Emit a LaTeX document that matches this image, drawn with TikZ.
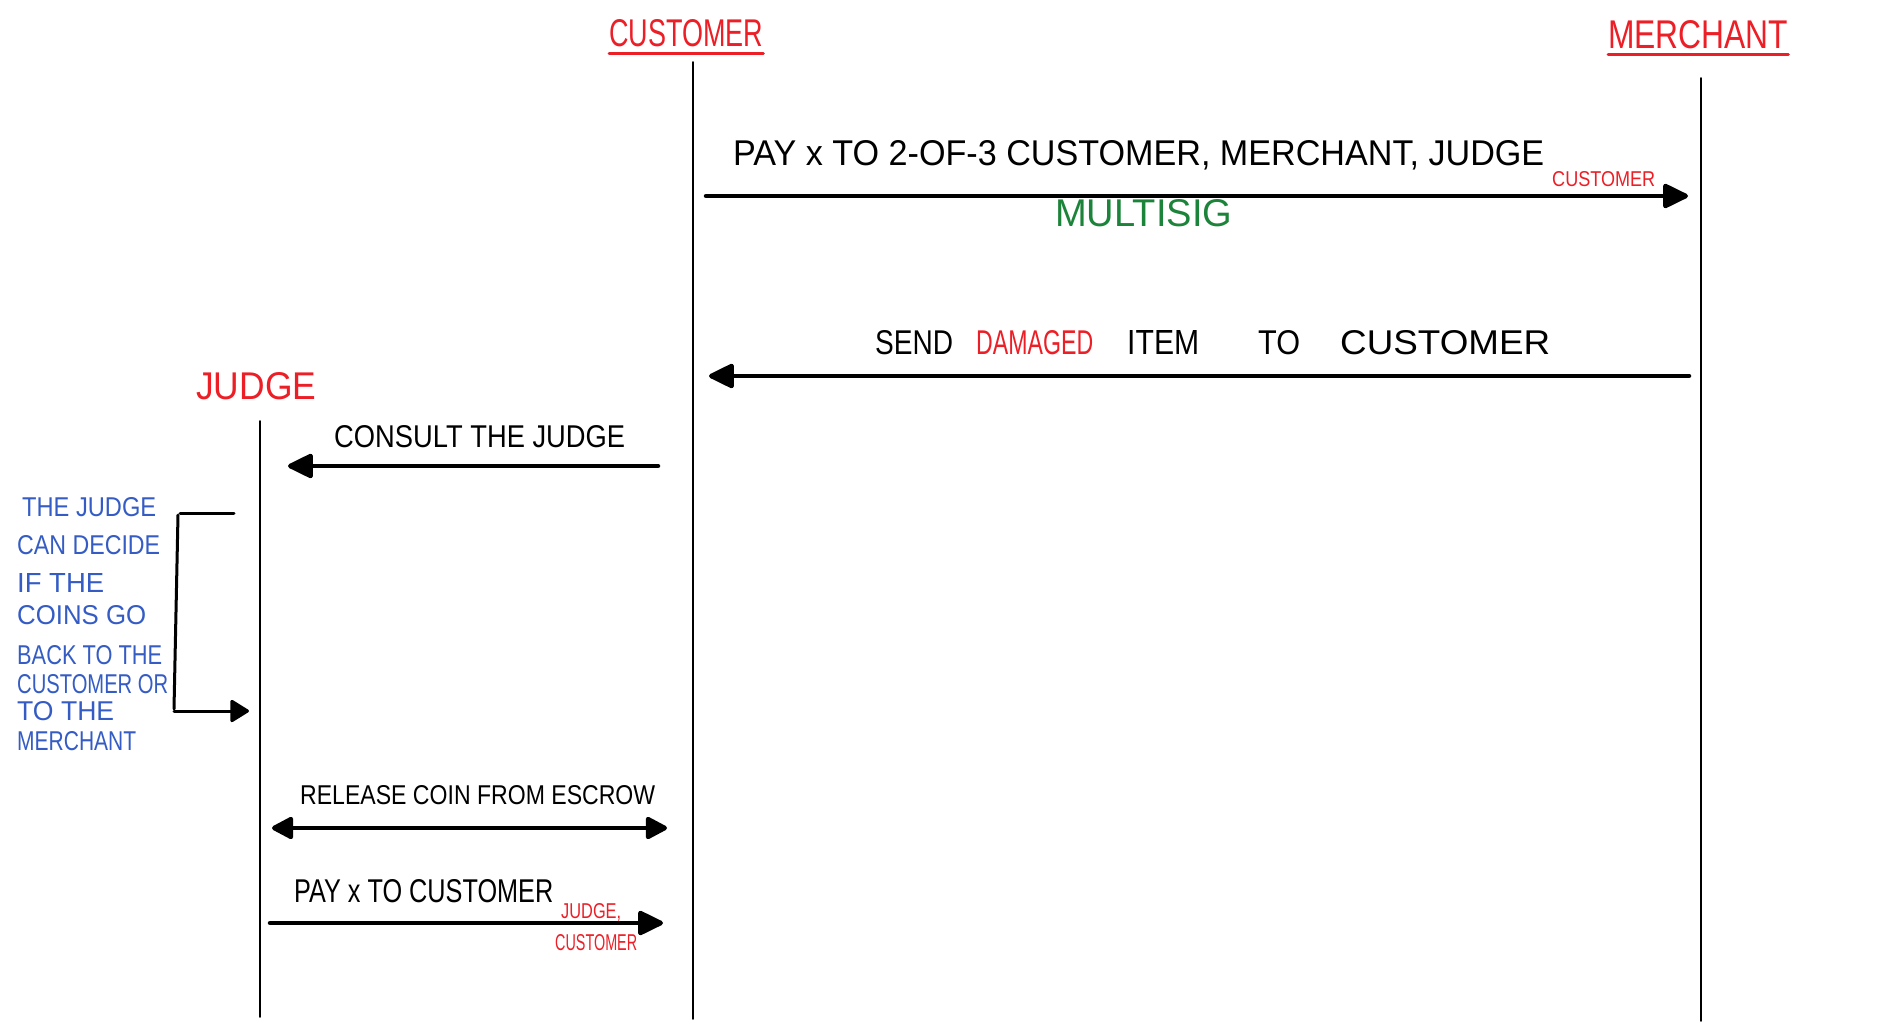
\documentclass[tikz,border=0pt]{standalone}
\usepackage{fontspec}
\usepackage{graphicx}
\setmainfont{Liberation Sans}
\usetikzlibrary{arrows.meta}
\definecolor{hred}{RGB}{236,30,38}
\definecolor{hblue}{RGB}{52,92,196}
\definecolor{hgreen}{RGB}{28,132,58}
\newcommand{\hwbox}[3]{\resizebox{#1pt}{#2pt}{#3}}
\tikzset{
  lifeline/.style={line width=1.7pt, line cap=round},
  msgline/.style={line width=4.5pt, line cap=round},
  tipR/.style={-{Triangle[length=28pt,width=26pt,round]}},
  tipLR/.style={{Triangle[length=24pt,width=24pt,round]}-{Triangle[length=24pt,width=24pt,round]}},
  txt/.style={inner sep=0pt, anchor=base west, font=\fontsize{20}{20}\selectfont},
  headtxt/.style={txt, text=hred},
  underl/.style={draw=hred, line width=3pt, line cap=round},
  bracket/.style={line width=3pt, line cap=round, line join=round}
}
\begin{document}
\begin{tikzpicture}[x=1pt,y=-1pt]
\useasboundingbox (0,0) rectangle (1884,1030);
% headers
\node[headtxt] (hcust) at (609,47) {\hwbox{154}{27}{CUSTOMER}};
\node[headtxt] (hmerch) at (1608,49) {\hwbox{180}{28}{MERCHANT}};
\node[headtxt] (hjudge) at (196,399) {\hwbox{120}{27}{JUDGE}};
\draw[underl] ([yshift=-6pt]hcust.south west) -- ([yshift=-6pt]hcust.south east);
\draw[underl] ([yshift=-5pt]hmerch.south west) -- ([yshift=-5pt]hmerch.south east);
% lifelines
\coordinate (ctop) at (693,62);
\coordinate (cbot) at (693,1019);
\coordinate (mtop) at (1701,78);
\coordinate (mbot) at (1701,1021);
\coordinate (jtop) at (260,421);
\coordinate (jbot) at (260,1017);
\draw[lifeline] (ctop) -- (cbot);
\draw[lifeline] (mtop) -- (mbot);
\draw[lifeline] (jtop) -- (jbot);
% message 1
\coordinate (a1s) at (706,196);
\coordinate (a1e) at (1688,196);
\draw[msgline,tipR] (a1s) -- (a1e);
\node[txt] (t1) at (733,166) {\hwbox{811}{25}{PAY x TO 2-OF-3 CUSTOMER, MERCHANT, JUDGE}};
\node[txt, text=hred] (t1b) at (1552,186) {\hwbox{103}{15}{CUSTOMER}};
\node[txt, text=hgreen] (t1c) at (1055,226) {\hwbox{177}{27}{MULTISIG}};
% message 2
\coordinate (a2s) at (1689,376);
\coordinate (a2e) at (709,376);
\draw[msgline,tipR] (a2s) -- (a2e);
\node[txt] (t2) at (875,354) {\hwbox{78}{24}{SEND}\hspace{23pt}\textcolor{hred}{\hwbox{117}{24}{DAMAGED}}\hspace{34pt}\hwbox{72}{24}{ITEM}\hspace{59pt}\hwbox{42}{24}{TO}\hspace{40pt}\hwbox{210}{24}{CUSTOMER}};
% message 3
\coordinate (a3s) at (658,466);
\coordinate (a3e) at (288,466);
\draw[msgline,tipR] (a3s) -- (a3e);
\node[txt] (t3) at (334,447) {\hwbox{291}{22}{CONSULT THE JUDGE}};
% note and bracket
\node[inner sep=0pt, anchor=north west, align=left, text=hblue, font=\fontsize{19}{33.4}\selectfont] (note) at (17,497) {%
\hspace{5pt}\hwbox{134}{19}{THE JUDGE}\\[4.6pt]
\hwbox{143}{19}{CAN DECIDE}\\[4.6pt]
\hwbox{87}{19}{IF THE}\\[-1.4pt]
\hwbox{129}{19}{COINS GO}\\[6.6pt]
\hwbox{145}{19}{BACK TO THE}\\[-4.4pt]
\hwbox{151}{19}{CUSTOMER OR}\\[-6.4pt]
\hwbox{97}{19}{TO THE}\\[-3.4pt]
\hwbox{119}{19}{MERCHANT}};
\coordinate (b1) at (234,513);
\coordinate (b2) at (180,513);
\coordinate (b3) at (178,515);
\coordinate (b4) at (174,709);
\coordinate (b5) at (174,711);
\coordinate (b6) at (249,711);
\draw[bracket] (b1) -- (b2);
\draw[bracket] (b3) -- (b4);
\draw[bracket, -{Triangle[length=20pt,width=24pt,round]}] (b5) -- (b6);
% message 4
\coordinate (a4s) at (272,828);
\coordinate (a4e) at (667,828);
\draw[msgline,tipLR] (a4s) -- (a4e);
\node[txt] (t4) at (300,804) {\hwbox{355}{19}{RELEASE COIN FROM ESCROW}};
% message 5
\coordinate (a5s) at (270,923);
\coordinate (a5e) at (663,923);
\draw[msgline,tipR] (a5s) -- (a5e);
\node[txt] (t5) at (294,902) {\hwbox{259}{23}{PAY x TO CUSTOMER}};
\node[txt, text=hred] (t5b) at (561,918) {\hwbox{60}{15}{JUDGE,}};
\node[txt, text=hred] (t5c) at (555,950) {\hwbox{82}{16}{CUSTOMER}};
\end{tikzpicture}
\end{document}
